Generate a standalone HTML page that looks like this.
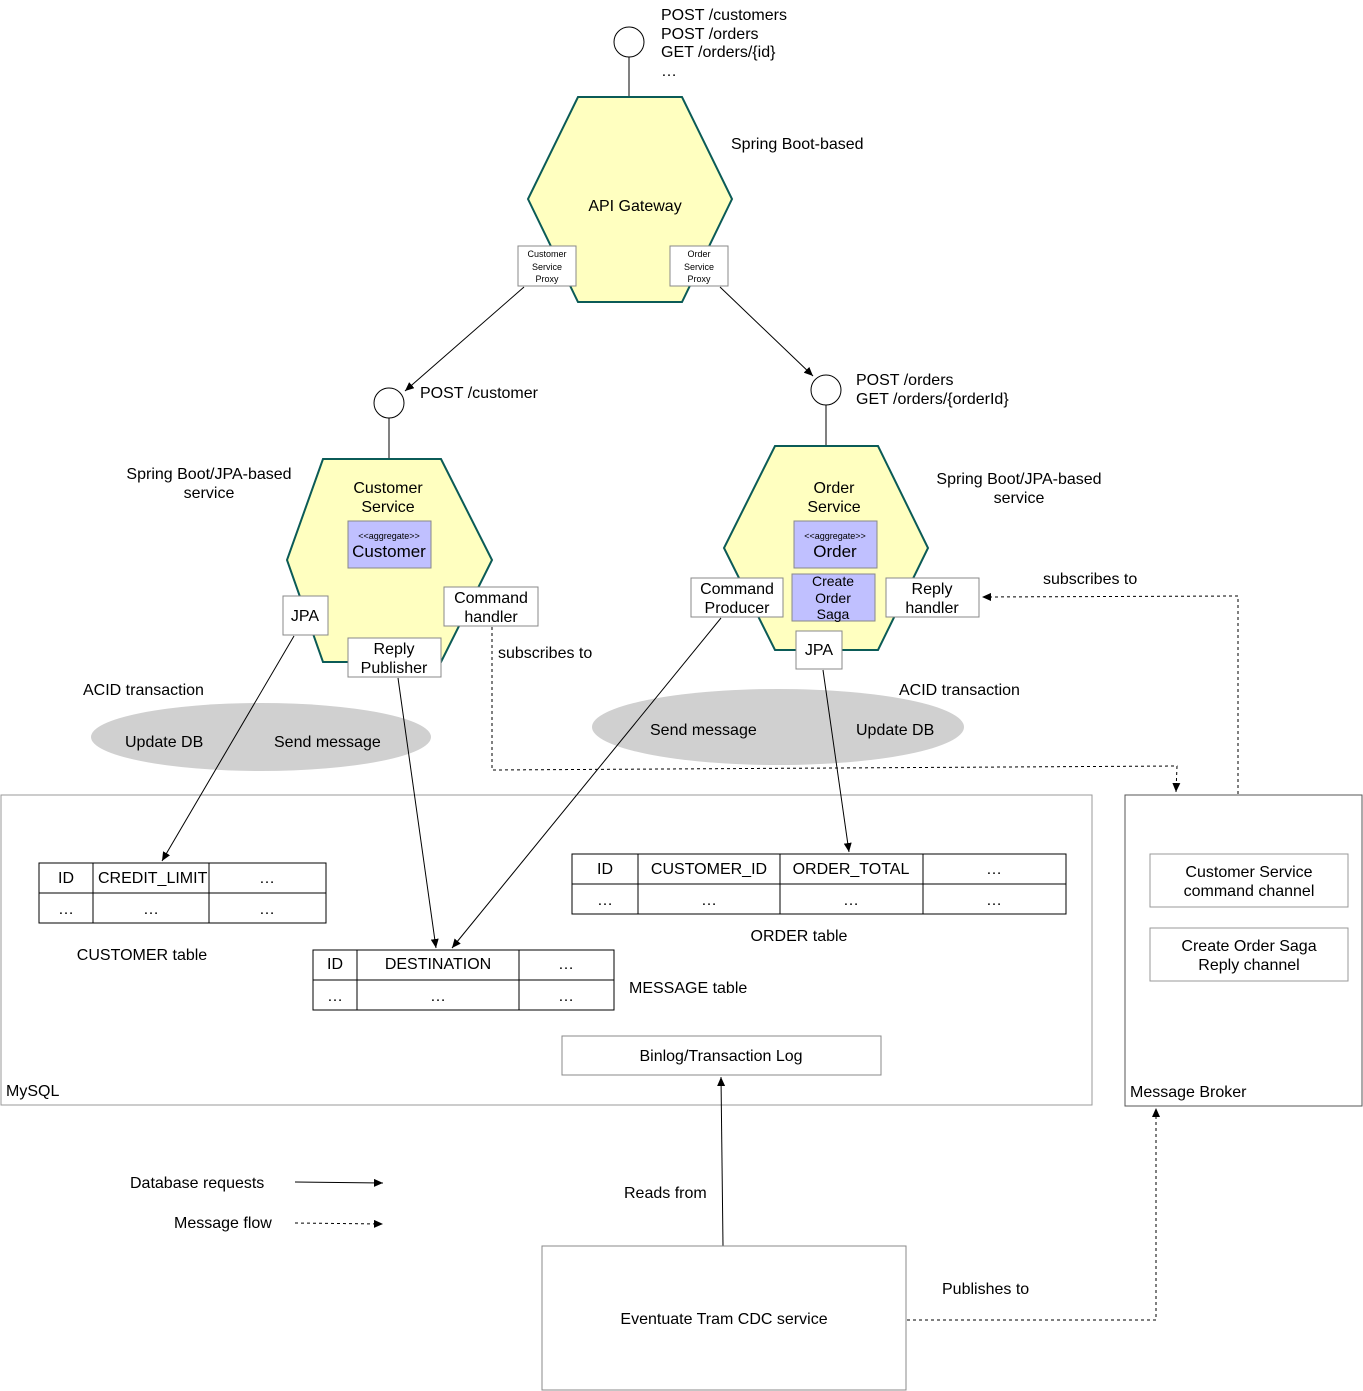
<!DOCTYPE html>
<html><head><meta charset="utf-8"><style>
html,body{margin:0;padding:0;background:#fff}
svg{display:block}
text{font-family:"Liberation Sans",Arial,sans-serif;font-size:16px;fill:#000}
.xs{font-size:9px}
</style></head><body>
<svg width="1363" height="1391" viewBox="0 0 1363 1391" xmlns="http://www.w3.org/2000/svg">
<defs>
<marker id="a" markerWidth="10" markerHeight="8" refX="9" refY="4" orient="auto" markerUnits="userSpaceOnUse"><path d="M0,0 L9,4 L0,8 Z" fill="#000"/></marker>
</defs>
<rect x="1" y="795" width="1091" height="310" fill="none" stroke="#999"/>
<text x="6" y="1096">MySQL</text>
<rect x="1125" y="795" width="237" height="311" fill="none" stroke="#555"/>
<text x="1130" y="1097">Message Broker</text>
<rect x="1150" y="854" width="198" height="53" fill="#fff" stroke="#999"/>
<text x="1249" y="877" text-anchor="middle">Customer Service</text>
<text x="1249" y="896" text-anchor="middle">command channel</text>
<rect x="1150" y="928" width="198" height="53" fill="#fff" stroke="#999"/>
<text x="1249" y="951" text-anchor="middle">Create Order Saga</text>
<text x="1249" y="970" text-anchor="middle">Reply channel</text>

<ellipse cx="261" cy="737" rx="170" ry="34" fill="#d0d0d0"/>
<text x="125" y="747">Update DB</text><text x="274" y="747">Send message</text>
<text x="83" y="695">ACID transaction</text>
<ellipse cx="778" cy="727" rx="186" ry="38" fill="#d0d0d0"/>
<text x="650" y="735">Send message</text><text x="856" y="735">Update DB</text>
<text x="899" y="695">ACID transaction</text>

<circle cx="629" cy="42" r="15" fill="#fff" stroke="#000"/>
<line x1="629" y1="57" x2="629" y2="97" stroke="#000"/>
<text x="661" y="20">POST /customers</text>
<text x="661" y="39">POST /orders</text>
<text x="661" y="57">GET /orders/{id}</text>
<text x="661" y="76">…</text>

<polygon points="578,97 682,97 732,199 682,302 578,302 528,199" fill="#ffffc0" stroke="#0b5b57" stroke-width="2"/>
<text x="635" y="211" text-anchor="middle">API Gateway</text>
<text x="731" y="149">Spring Boot-based</text>
<rect x="518" y="246" width="58" height="40" fill="#fff" stroke="#888"/>
<text class="xs" x="547" y="257" text-anchor="middle">Customer</text>
<text class="xs" x="547" y="270" text-anchor="middle">Service</text>
<text class="xs" x="547" y="282" text-anchor="middle">Proxy</text>
<rect x="670" y="246" width="58" height="40" fill="#fff" stroke="#888"/>
<text class="xs" x="699" y="257" text-anchor="middle">Order</text>
<text class="xs" x="699" y="270" text-anchor="middle">Service</text>
<text class="xs" x="699" y="282" text-anchor="middle">Proxy</text>

<line x1="524" y1="287" x2="405" y2="391" stroke="#000" marker-end="url(#a)"/>
<line x1="720" y1="287" x2="813" y2="376" stroke="#000" marker-end="url(#a)"/>

<circle cx="389" cy="403" r="15" fill="#fff" stroke="#000"/>
<line x1="389" y1="418" x2="389" y2="459" stroke="#000"/>
<text x="420" y="398">POST /customer</text>
<polygon points="323,459 441,459 492,560 441,662 323,662 287,560" fill="#ffffc0" stroke="#0b5b57" stroke-width="2"/>
<text x="388" y="493" text-anchor="middle">Customer</text>
<text x="388" y="512" text-anchor="middle">Service</text>
<text x="209" y="479" text-anchor="middle">Spring Boot/JPA-based</text>
<text x="209" y="498" text-anchor="middle">service</text>
<rect x="348" y="521" width="83" height="47" fill="#c0c0ff" stroke="#888"/>
<text class="xs" x="389" y="539" text-anchor="middle">&lt;&lt;aggregate&gt;&gt;</text>
<text x="389" y="557" text-anchor="middle" style="font-size:17px">Customer</text>
<rect x="283" y="596" width="45" height="39" fill="#fff" stroke="#888"/>
<text x="305" y="621" text-anchor="middle">JPA</text>
<rect x="444" y="587" width="94" height="39" fill="#fff" stroke="#888"/>
<text x="491" y="603" text-anchor="middle">Command</text>
<text x="491" y="622" text-anchor="middle">handler</text>
<rect x="348" y="638" width="93" height="39" fill="#fff" stroke="#888"/>
<text x="394" y="654" text-anchor="middle">Reply</text>
<text x="394" y="673" text-anchor="middle">Publisher</text>
<text x="498" y="658">subscribes to</text>

<circle cx="826" cy="390" r="15" fill="#fff" stroke="#000"/>
<line x1="826" y1="405" x2="826" y2="446" stroke="#000"/>
<text x="856" y="385">POST /orders</text>
<text x="856" y="404">GET /orders/{orderId}</text>
<polygon points="775,446 878,446 928,548 878,650 775,650 724,548" fill="#ffffc0" stroke="#0b5b57" stroke-width="2"/>
<text x="834" y="493" text-anchor="middle">Order</text>
<text x="834" y="512" text-anchor="middle">Service</text>
<text x="1019" y="484" text-anchor="middle">Spring Boot/JPA-based</text>
<text x="1019" y="503" text-anchor="middle">service</text>
<rect x="794" y="521" width="83" height="47" fill="#c0c0ff" stroke="#888"/>
<text class="xs" x="835" y="539" text-anchor="middle">&lt;&lt;aggregate&gt;&gt;</text>
<text x="835" y="557" text-anchor="middle" style="font-size:17px">Order</text>
<rect x="792" y="574" width="83" height="47" fill="#c0c0ff" stroke="#888"/>
<text x="833" y="586" text-anchor="middle" style="font-size:14px">Create</text>
<text x="833" y="603" text-anchor="middle" style="font-size:14px">Order</text>
<text x="833" y="619" text-anchor="middle" style="font-size:14px">Saga</text>
<rect x="691" y="578" width="92" height="39" fill="#fff" stroke="#888"/>
<text x="737" y="594" text-anchor="middle">Command</text>
<text x="737" y="613" text-anchor="middle">Producer</text>
<rect x="886" y="578" width="93" height="39" fill="#fff" stroke="#888"/>
<text x="932" y="594" text-anchor="middle">Reply</text>
<text x="932" y="613" text-anchor="middle">handler</text>
<rect x="796" y="631" width="46" height="38" fill="#fff" stroke="#888"/>
<text x="819" y="655" text-anchor="middle">JPA</text>
<text x="1043" y="584">subscribes to</text>

<g stroke="#000" fill="none">
<rect x="39" y="863" width="287" height="60"/>
<line x1="39" y1="893" x2="326" y2="893"/><line x1="93" y1="863" x2="93" y2="923"/><line x1="209" y1="863" x2="209" y2="923"/>
<rect x="572" y="854" width="494" height="60"/>
<line x1="572" y1="884" x2="1066" y2="884"/><line x1="638" y1="854" x2="638" y2="914"/><line x1="780" y1="854" x2="780" y2="914"/><line x1="923" y1="854" x2="923" y2="914"/>
<rect x="313" y="950" width="301" height="60"/>
<line x1="313" y1="980" x2="614" y2="980"/><line x1="357" y1="950" x2="357" y2="1010"/><line x1="519" y1="950" x2="519" y2="1010"/>
</g>
<text x="66" y="883" text-anchor="middle">ID</text><text x="98" y="883">CREDIT_LIMIT</text><text x="267" y="883" text-anchor="middle">…</text>
<text x="66" y="914" text-anchor="middle">…</text><text x="151" y="914" text-anchor="middle">…</text><text x="267" y="914" text-anchor="middle">…</text>
<text x="142" y="960" text-anchor="middle">CUSTOMER table</text>
<text x="605" y="874" text-anchor="middle">ID</text><text x="709" y="874" text-anchor="middle">CUSTOMER_ID</text><text x="851" y="874" text-anchor="middle">ORDER_TOTAL</text><text x="994" y="874" text-anchor="middle">…</text>
<text x="605" y="905" text-anchor="middle">…</text><text x="709" y="905" text-anchor="middle">…</text><text x="851" y="905" text-anchor="middle">…</text><text x="994" y="905" text-anchor="middle">…</text>
<text x="799" y="941" text-anchor="middle">ORDER table</text>
<text x="335" y="969" text-anchor="middle">ID</text><text x="438" y="969" text-anchor="middle">DESTINATION</text><text x="566" y="969" text-anchor="middle">…</text>
<text x="335" y="1001" text-anchor="middle">…</text><text x="438" y="1001" text-anchor="middle">…</text><text x="566" y="1001" text-anchor="middle">…</text>
<text x="629" y="993">MESSAGE table</text>

<rect x="562" y="1036" width="319" height="39" fill="#fff" stroke="#888"/>
<text x="721" y="1061" text-anchor="middle">Binlog/Transaction Log</text>

<g stroke="#000" fill="none">
<line x1="294" y1="636" x2="162" y2="861" marker-end="url(#a)"/>
<line x1="398" y1="678" x2="436" y2="948" marker-end="url(#a)"/>
<line x1="721" y1="618" x2="452" y2="948" marker-end="url(#a)"/>
<line x1="823" y1="670" x2="849" y2="852" marker-end="url(#a)"/>
<line x1="723" y1="1246" x2="721" y2="1077" marker-end="url(#a)"/>
<line x1="295" y1="1182" x2="383" y2="1183" marker-end="url(#a)"/>
</g>
<g stroke="#000" fill="none" stroke-dasharray="3,3">
<polyline points="492,627 492,770 1177,766 1176,792" marker-end="url(#a)"/>
<polyline points="1238,794 1238,596 982,597" marker-end="url(#a)"/>
<polyline points="907,1320 1156,1320 1156,1108" marker-end="url(#a)"/>
<line x1="295" y1="1223" x2="383" y2="1224" marker-end="url(#a)"/>
</g>

<text x="130" y="1188">Database requests</text>
<text x="174" y="1228">Message flow</text>
<text x="624" y="1198">Reads from</text>
<text x="942" y="1294">Publishes to</text>
<rect x="542" y="1246" width="364" height="144" fill="#fff" stroke="#888"/>
<text x="724" y="1324" text-anchor="middle">Eventuate Tram CDC service</text>
</svg>
</body></html>
